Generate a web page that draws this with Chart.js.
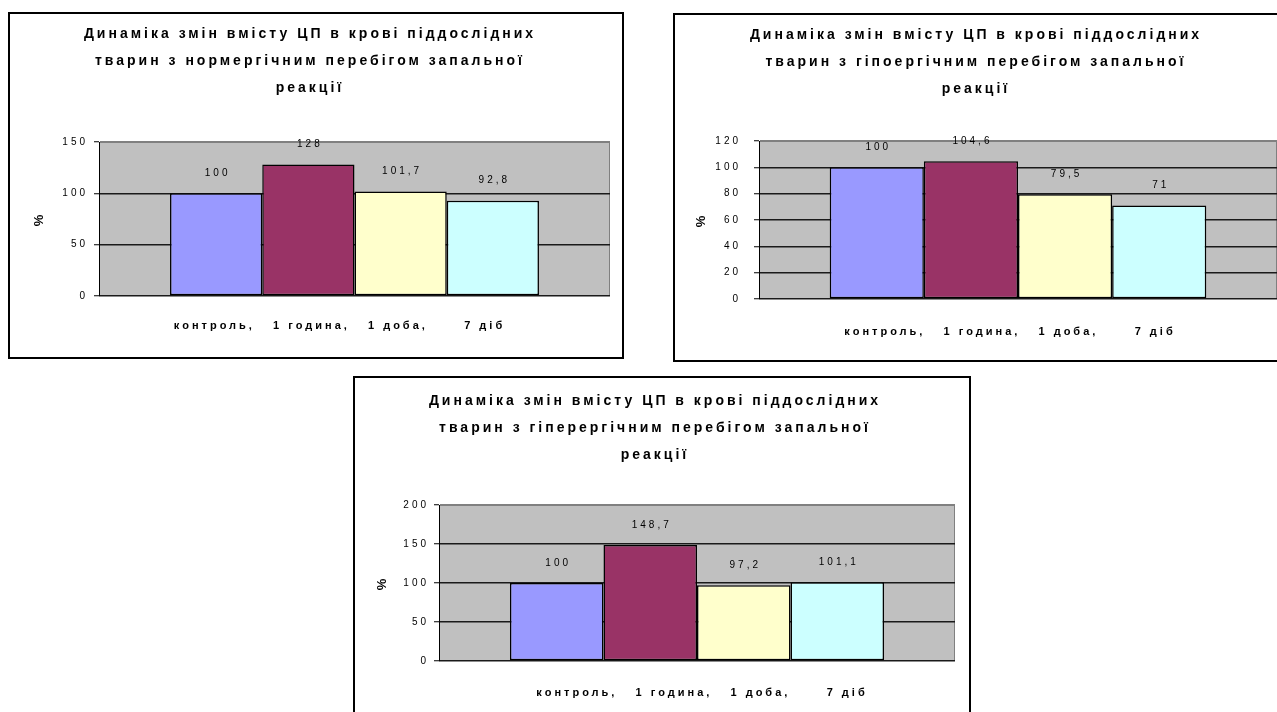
<!DOCTYPE html>
<html>
<head>
<meta charset="utf-8">
<script src="https://cdn.jsdelivr.net/npm/chart.js@4/dist/chart.umd.min.js"></script>
<style>
  html, body { margin: 0; padding: 0; width: 1277px; height: 712px; overflow: hidden; background: #fff; }
  .box { position: absolute; box-sizing: border-box; border: 2px solid #000; background: #fff; }
  .box .inner { position: relative; width: 100%; height: 100%; }
</style>
</head>
<body>
<div class="box" style="left:8px; top:12px; width:616px; height:347px;"><div class="inner"><canvas id="normergic"></canvas></div></div>
<div class="box" style="left:673px; top:13px; width:618px; height:349px;"><div class="inner"><canvas id="hypoergic"></canvas></div></div>
<div class="box" style="left:353px; top:376px; width:618px; height:350px;"><div class="inner"><canvas id="hyperergic"></canvas></div></div>
<script>
// series names and the single category label under the bars
const periods = ['контроль,', '1 година,', '1 доба,', '7 діб'];
const categoryLabel = 'контроль,   1 година,   1 доба,      7 діб';

// content of CP in blood, % of control
const normergicValues = [100, 128, 101.7, 92.8];
const hypoergicValues = [100, 104.6, 79.5, 71];
const hyperergicValues = [100, 148.7, 97.2, 101.1];

const normergicTitle = ['Динаміка змін вмісту ЦП в крові піддослідних', 'тварин з нормергічним перебігом запальної', 'реакції'];
const hypoergicTitle = ['Динаміка змін вмісту ЦП в крові піддослідних', 'тварин з гіпоергічним перебігом запальної', 'реакції'];
const hyperergicTitle = ['Динаміка змін вмісту ЦП в крові піддослідних', 'тварин з гіперергічним перебігом запальної', 'реакції'];

const barColors = ['#9999ff', '#993366', '#ffffcc', '#ccffff'];
const FONT = '"Liberation Sans", Arial, sans-serif';
const SPACING = '3px';

Chart.defaults.color = '#000';
Chart.defaults.font.family = FONT;

// all the text in these charts is drawn letter-spaced
const spacedText = {
    id: 'spacedText',
    beforeUpdate(chart) { chart.ctx.letterSpacing = SPACING; },
    beforeDraw(chart) { chart.ctx.letterSpacing = SPACING; }
};

// grey plot area like the old spreadsheet charts
const plotBackground = {
    id: 'plotBackground',
    beforeDraw(chart) {
        const { ctx, chartArea: a } = chart;
        ctx.save();
        ctx.fillStyle = '#c0c0c0';
        ctx.fillRect(a.left, a.top, a.right - a.left, a.bottom - a.top);
        ctx.strokeStyle = '#808080';
        ctx.lineWidth = 1;
        ctx.strokeRect(a.left + 0.5, a.top + 0.5, a.right - a.left - 1, a.bottom - a.top - 1);
        ctx.restore();
    }
};

// value above every bar, decimal comma
const valueLabels = {
    id: 'valueLabels',
    afterDatasetsDraw(chart) {
        const ctx = chart.ctx;
        ctx.save();
        ctx.font = '10px ' + FONT;
        ctx.letterSpacing = SPACING;
        ctx.fillStyle = '#000';
        ctx.textAlign = 'center';
        ctx.textBaseline = 'middle';
        chart.data.datasets.forEach((ds, i) => {
            chart.getDatasetMeta(i).data.forEach((bar, j) => {
                ctx.fillText(String(ds.data[j]).replace('.', ','), bar.x + 1.5, bar.y - 20);
            });
        });
        ctx.restore();
    }
};

function makeChart(id, title, values, o) {
    const datasets = periods.map((p, i) => ({
        label: p,
        data: [values[i]],
        backgroundColor: barColors[i],
        borderColor: '#000',
        borderWidth: 1.5,
        borderSkipped: false,
        categoryPercentage: o.catPct,
        barPercentage: 1
    }));

    return new Chart(document.getElementById(id), {
        type: 'bar',
        data: { labels: [categoryLabel], datasets: datasets },
        plugins: [spacedText, plotBackground, valueLabels],
        options: {
            responsive: true,
            maintainAspectRatio: false,
            animation: false,
            layout: { autoPadding: false, padding: { left: 0, right: o.padRight, top: 0, bottom: 0 } },
            plugins: {
                legend: { display: false },
                tooltip: { enabled: false },
                title: {
                    display: true,
                    text: title,
                    font: { size: 14, weight: 'bold', lineHeight: '27px' },
                    padding: { top: o.titleTop, bottom: o.titleBottom }
                }
            },
            scales: {
                x: {
                    grid: { display: false },
                    border: { display: false },
                    ticks: { font: { size: 11, weight: 'bold' }, padding: o.xPad, labelOffset: o.xShift, maxRotation: 0 },
                    afterFit(scale) { scale.height = o.xHeight; }
                },
                y: {
                    min: 0,
                    max: o.max,
                    ticks: { stepSize: o.step, font: { size: 10 }, padding: o.yPad },
                    grid: {
                        color: c => c.tick && c.tick.value === o.max ? '#808080' : '#1a1a1a',
                        lineWidth: 1.5,
                        tickColor: '#000',
                        tickWidth: 1,
                        tickLength: 5
                    },
                    border: { display: true, color: '#000', width: 1 },
                    title: {
                        display: true,
                        text: '%',
                        font: { size: 13, weight: 'bold' },
                        padding: { top: o.yTitle, bottom: 0 }
                    },
                    afterFit(scale) { scale.width = o.yWidth; }
                }
            }
        }
    });
}

makeChart('normergic', normergicTitle, normergicValues, {
    max: 150, step: 50, catPct: 0.722,
    padRight: 12, yWidth: 89, xHeight: 61,
    titleTop: 6.5, titleBottom: 40.5,
    xPad: 15, xShift: -15, yPad: 6, yTitle: 22
});

makeChart('hypoergic', hypoergicTitle, hypoergicValues, {
    max: 120, step: 20, catPct: 0.727,
    padRight: 12, yWidth: 84, xHeight: 61,
    titleTop: 6.5, titleBottom: 38.5,
    xPad: 18, xShift: -8, yPad: 13, yTitle: 19
});

makeChart('hyperergic', hyperergicTitle, hyperergicValues, {
    max: 200, step: 50, catPct: 0.725,
    padRight: 14, yWidth: 84, xHeight: 63,
    titleTop: 9.5, titleBottom: 36.5,
    xPad: 17, xShift: 5, yPad: 5, yTitle: 20
});
</script>
</body>
</html>
